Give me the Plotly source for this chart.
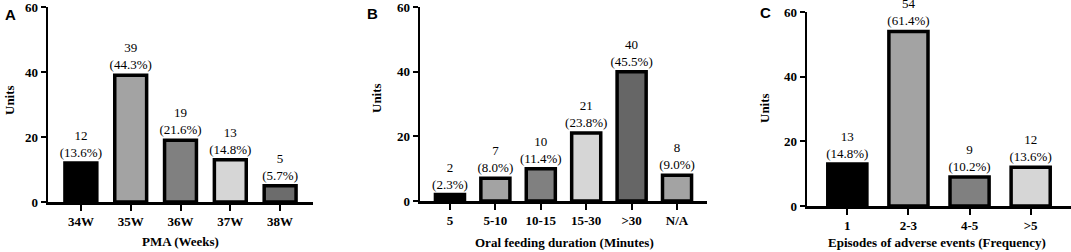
import plotly.graph_objects as go

# Panel A
a_cats = ["34W", "35W", "36W", "37W", "38W"]
a_vals = [12, 39, 19, 13, 5]
a_pcts = ["13.6%", "44.3%", "21.6%", "14.8%", "5.7%"]
a_colors = ["#000000", "#a3a3a3", "#808080", "#d6d6d6", "#6c6c6c"]

# Panel B
b_cats = ["5", "5-10", "10-15", "15-30", ">30", "N/A"]
b_vals = [2, 7, 10, 21, 40, 8]
b_pcts = ["2.3%", "8.0%", "11.4%", "23.8%", "45.5%", "9.0%"]
b_colors = ["#000000", "#a3a3a3", "#808080", "#d6d6d6", "#666666", "#a3a3a3"]

# Panel C
c_cats = ["1", "2-3", "4-5", ">5"]
c_vals = [13, 54, 9, 12]
c_pcts = ["14.8%", "61.4%", "10.2%", "13.6%"]
c_colors = ["#000000", "#a3a3a3", "#808080", "#d6d6d6"]

y_ticks = [0, 20, 40, 60]

SERIF = "Liberation Serif"
W, H = 1071, 252

fig = go.Figure()

panels = [
    ("x", "y", a_cats, a_vals, a_pcts, a_colors),
    ("x2", "y2", b_cats, b_vals, b_pcts, b_colors),
    ("x3", "y3", c_cats, c_vals, c_pcts, c_colors),
]
for xa, ya, cats, vals, pcts, cols in panels:
    fig.add_trace(go.Bar(
        x=cats, y=vals, xaxis=xa, yaxis=ya,
        marker=dict(color=cols, line=dict(color="black", width=3.5)),
        text=[f"{v}<br>({p})" for v, p in zip(vals, pcts)],
        textposition="outside", constraintext="none", cliponaxis=False,
        textfont=dict(family=SERIF, size=13, color="black"),
        showlegend=False, hoverinfo="skip",
    ))

def px_dom(a, b, n):
    return [a / n, b / n]

axis_common = dict(
    showgrid=False, zeroline=False, showline=True, linecolor="black",
    linewidth=2.5, ticks="outside", tickwidth=2, tickcolor="black",
    automargin=False, ticklabeloverflow="allow",
    tickfont=dict(family=SERIF, size=13, color="black", weight="bold"),
)

domains = [
    (px_dom(48, 313, W), [(H - 202) / H, (H - 7) / H], len(a_cats)),
    (px_dom(420, 707, W), [(H - 201) / H, (H - 7) / H], len(b_cats)),
    (px_dom(807, 1071, W), [(H - 206) / H, (H - 12) / H], len(c_cats)),
]

layout = dict(
    template="none",
    width=W, height=H, margin=dict(l=0, r=0, t=0, b=0, autoexpand=False),
    paper_bgcolor="white", plot_bgcolor="white", bargap=0.36,
)
for i, (xd, yd, n) in enumerate(domains):
    sx = "" if i == 0 else str(i + 1)
    layout["xaxis" + sx] = dict(
        domain=xd, anchor="y" + sx, type="category",
        range=[-0.66, n - 1 + 0.66], ticklen=6, fixedrange=True, **axis_common,
    )
    layout["yaxis" + sx] = dict(
        domain=yd, anchor="x" + sx, range=[0, 60], tickvals=y_ticks,
        ticklen=5, fixedrange=True, **axis_common,
    )
fig.update_layout(**layout)

bold_serif = dict(family=SERIF, size=13, color="black", weight="bold")
anns = [
    # panel letters
    dict(text="A", x=10 / W, y=1 - 14 / H),
    dict(text="B", x=372 / W, y=1 - 13 / H),
    dict(text="C", x=765 / W, y=1 - 12 / H),
]
for a in anns:
    fig.add_annotation(xref="paper", yref="paper", showarrow=False,
                       xanchor="center", yanchor="middle",
                       font=dict(family="Liberation Sans", size=15, color="black", weight="bold"),
                       **a)

titles = [
    ("PMA (Weeks)", 180, 241),
    ("Oral feeding duration (Minutes)", 564, 242),
    ("Episodes of adverse events (Frequency)", 937, 242),
]
for t, x, y in titles:
    fig.add_annotation(xref="paper", yref="paper", showarrow=False, text=t,
                       x=x / W, y=1 - y / H, xanchor="center", yanchor="middle",
                       font=bold_serif)

ytitles = [(10, 100), (377, 98), (764, 108)]
for x, y in ytitles:
    fig.add_annotation(xref="paper", yref="paper", showarrow=False, text="Units",
                       x=x / W, y=1 - y / H, xanchor="center", yanchor="middle",
                       textangle=-90, font=bold_serif)

fig.write_html(
    "out.html",
    config={"displayModeBar": False, "staticPlot": True},
    post_script="document.body.style.margin='0';document.body.style.overflow='hidden';",
)
